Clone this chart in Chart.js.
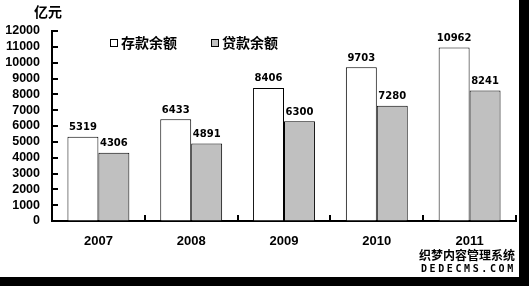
<!DOCTYPE html>
<html lang="zh">

<head>
    <meta charset="UTF-8">
    <title>存贷款余额</title>
    <style>
        body { margin: 0; background: #000; }
        #wrap { position: relative; width: 519px; height: 277px; background: #fff; }
        #mark { position: absolute; left: 419px; top: 249px; width: 100px; background: #fff;
                font-family: "Noto Sans CJK SC"; font-weight: bold; color: #000; line-height: 1; }
        #mark .cn { font-size: 12px; }
        #mark .en { font-family: "DejaVu Sans Mono"; font-size: 10px; letter-spacing: 2.6px; margin-top: 3px; padding-left: 2px; }
    </style>
</head>

<body>

    <div id="wrap">
        <canvas id="myChart" width="519" height="277"></canvas>
        <div id="mark"><div class="cn">织梦内容管理系统</div><div class="en">DEDECMS.COM</div></div>
    </div>

    <script src="https://cdn.jsdelivr.net/npm/chart.js"></script>
    <script>
        // 数据
        let v_years = ['2007', '2008', '2009', '2010', '2011'];
        let v_deposit = [5319, 6433, 8406, 9703, 10962];
        let v_loan = [4306, 4891, 6300, 7280, 8241];
        let v_unit = '亿元';

        // 柱顶数字 + 内侧刻度 + 图例
        const myPlugin = {
            id: 'myPlugin',
            afterDatasetsDraw(chart) {
                const c = chart.ctx;
                c.save();
                c.fillStyle = '#000';
                c.font = 'bold 10px "DejaVu Sans"';
                c.textAlign = 'center';
                c.textBaseline = 'bottom';
                chart.data.datasets.forEach((ds, i) => {
                    chart.getDatasetMeta(i).data.forEach((bar, j) => {
                        c.fillText(ds.data[j], bar.x, bar.y - 4);
                    });
                });
                c.restore();
            },
            afterDraw(chart) {
                const c = chart.ctx;
                const xs = chart.scales.x;
                const ys = chart.scales.y;
                const area = chart.chartArea;
                c.save();
                c.fillStyle = '#000';
                // y轴内侧刻度
                for (let v = ys.min; v <= ys.max; v += 1000) {
                    let y = Math.round(ys.getPixelForValue(v));
                    c.fillRect(area.left, y - 1, 6, 2);
                }
                // x轴内侧刻度（类别分界）
                let step = (area.right - area.left) / v_years.length;
                for (let i = 1; i <= v_years.length; i++) {
                    let x = Math.round(area.left + step * i);
                    c.fillRect(x - 1, area.bottom - 6, 2, 6);
                }

                // 单位
                c.font = 'bold 14px "Noto Sans CJK SC"';
                c.textAlign = 'center';
                c.textBaseline = 'middle';
                c.fillText(v_unit, 48, 12);

                // 图例
                let lx = [110, 211];
                chart.data.datasets.forEach((ds, i) => {
                    c.fillStyle = ds.backgroundColor;
                    c.fillRect(lx[i] + 0.5, 39.5, 7, 7);
                    c.strokeStyle = '#000';
                    c.lineWidth = 1;
                    c.strokeRect(lx[i] + 0.5, 39.5, 7, 7);
                    c.fillStyle = '#000';
                    c.textAlign = 'left';
                    c.fillText(ds.label, lx[i] + 11, 43);
                });
                c.restore();
            }
        };

        const ctx = document.getElementById('myChart');

        new Chart(ctx, {
            type: 'bar',
            data: {
                labels: v_years,
                datasets: [{
                    label: '存款余额',
                    data: v_deposit,
                    backgroundColor: '#ffffff',
                    borderColor: '#000',
                    borderWidth: 1
                }, {
                    label: '贷款余额',
                    data: v_loan,
                    backgroundColor: '#c0c0c0',
                    borderColor: '#000',
                    borderWidth: 1
                }]
            },
            options: {
                responsive: false,
                animation: false,
                layout: {
                    padding: { left: 0, top: 31, right: 3, bottom: 26 }
                },
                datasets: {
                    bar: { categoryPercentage: 0.667, barPercentage: 1.0 }
                },
                scales: {
                    x: {
                        afterFit: s => { s.height = 30; },
                        grid: { display: true, drawOnChartArea: false, drawTicks: false },
                        border: { display: true, color: '#000', width: 2 },
                        ticks: {
                            color: '#000',
                            padding: 13,
                            font: { family: 'Liberation Sans', size: 13, weight: 'bold' }
                        }
                    },
                    y: {
                        min: 0,
                        max: 12000,
                        afterFit: s => { s.width = 52; },
                        grid: { display: true, drawOnChartArea: false, drawTicks: false },
                        border: { display: true, color: '#000', width: 2 },
                        ticks: {
                            stepSize: 1000,
                            autoSkip: false,
                            color: '#000',
                            padding: 12,
                            font: { family: 'Liberation Sans', size: 12.5, weight: 'bold' },
                            callback: v => String(v)
                        }
                    }
                },
                plugins: {
                    legend: { display: false },
                    tooltip: { enabled: false }
                }
            },
            plugins: [myPlugin]
        });
    </script>
</body>

</html>
